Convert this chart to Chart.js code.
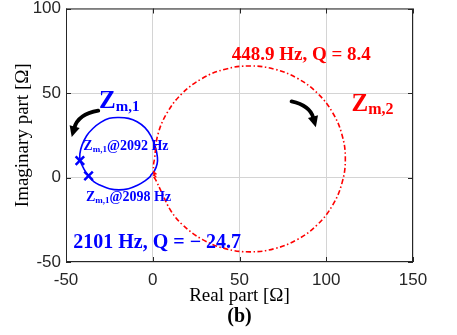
<!DOCTYPE html>
<html>
<head>
<meta charset="utf-8">
<script src="https://cdn.jsdelivr.net/npm/chart.js@4"></script>
<style>
  html, body { margin: 0; padding: 0; background: #fff; }
</style>
</head>
<body>
<canvas id="impChart" width="457" height="335"></canvas>
<script>
// Z_m,2 locus (red, dash-dot)
const redRe = [1, 0.5, 0.5, 1, 2.9, 8.4, 17.1, 28.5, 41.8, 56, 70.2, 83.5, 94.9, 103.6, 109.1, 111,
               109.1, 103.6, 94.9, 83.5, 70.2, 56, 41.8, 28.5, 17.1, 10.5, 5, 2, 0.5, 2.2, 1.5, 0.3];
const redIm = [1, 4, 8, 11, 25.2, 38.5, 49.9, 58.6, 64.1, 66, 64.1, 58.6, 49.9, 38.5, 25.2, 11,
               -3.2, -16.5, -27.9, -36.6, -42.1, -44, -42.1, -36.6, -27.9, -19.8, -8.5, -2, 1, 0.5, 2.5, 1];

// Z_m,1 locus (blue, solid)
const blueRe = [-1, 1, 2.5, 2.7, 1.5, -1, -4.5, -9, -14, -19.5, -25, -30, -34.5, -38.1, -40.8, -42, -41.8,
                -39.8, -37, -34, -30.2, -25, -19.5, -14, -8.8, -4.5, -1.5, -1];
const blueIm = [1.5, 4, 8, 12, 18, 24.5, 29.5, 33, 35, 35.5, 35, 32.6, 29, 24.7, 19, 14, 10,
                5.3, 1, -2.5, -4.6, -6.6, -7.3, -6.6, -4.6, -2, 0.5, 1.5];

// marked frequencies 2092 Hz and 2098 Hz
const markRe = [-42, -37];
const markIm = [10, 1];

const xTicks = [-50, 0, 50, 100, 150];
const yTicks = [-50, 0, 50, 100];

const toXY = (re, im) => re.map((v, i) => ({ x: v, y: im[i] }));

// text annotations (data units for the left/baseline point)
const labels = [
  { x: 45.5, y: 69.5, text: '448.9 Hz, Q = 8.4', color: '#ff0000', size: 19 },
  { x: -45.8, y: -41.6, text: '2101 Hz, Q = \u2212 24.7', color: '#0000ff', size: 20 },
];
const zLabels = [
  { x: -31, y: 41.4, sub: 'm,1', tail: '', color: '#0000ff', big: 25, small: 15 },
  { x: 114.6, y: 39.5, sub: 'm,2', tail: '', color: '#ff0000', big: 25, small: 16 },
  { x: -40, y: 16.2, sub: 'm,1', tail: '@2092 Hz', color: '#0000ff', big: 14, small: 9 },
  { x: -38.5, y: -14, sub: 'm,1', tail: '@2098 Hz', color: '#0000ff', big: 14, small: 9 },
];
// curved direction arrows: start, control, tip
const arrows = [
  { p0: [-31.4, 39.5], c: [-43, 37.4], p1: [-46.7, 23.9] },
  { p0: [80, 45], c: [90.6, 42.6], p1: [94, 29.8] },
];

function drawZ(ctx, x, y, l) {
  ctx.fillStyle = l.color;
  ctx.textBaseline = 'alphabetic';
  ctx.textAlign = 'left';
  ctx.font = 'bold ' + l.big + 'px "Liberation Serif"';
  ctx.fillText('Z', x, y);
  let w = ctx.measureText('Z').width;
  ctx.font = 'bold ' + l.small + 'px "Liberation Serif"';
  ctx.fillText(l.sub, x + w, y + l.small * 0.2);
  w += ctx.measureText(l.sub).width;
  if (l.tail) {
    ctx.font = 'bold ' + l.big + 'px "Liberation Serif"';
    ctx.fillText(l.tail, x + w, y);
  }
}

function drawArrow(ctx, xs, ys, a) {
  const x0 = xs.getPixelForValue(a.p0[0]), y0 = ys.getPixelForValue(a.p0[1]);
  const cx = xs.getPixelForValue(a.c[0]), cy = ys.getPixelForValue(a.c[1]);
  const x1 = xs.getPixelForValue(a.p1[0]), y1 = ys.getPixelForValue(a.p1[1]);
  const ang = Math.atan2(y1 - cy, x1 - cx);
  const head = 12;
  // stop the shaft a little before the tip
  const sx = x1 - Math.cos(ang) * head * 0.8, sy = y1 - Math.sin(ang) * head * 0.8;
  ctx.strokeStyle = '#000';
  ctx.lineWidth = 3.8;
  ctx.lineCap = 'round';
  ctx.beginPath();
  ctx.moveTo(x0, y0);
  ctx.quadraticCurveTo(cx, cy, sx, sy);
  ctx.stroke();
  ctx.fillStyle = '#000';
  ctx.beginPath();
  ctx.moveTo(x1, y1);
  ctx.lineTo(x1 - head * Math.cos(ang - 0.45), y1 - head * Math.sin(ang - 0.45));
  ctx.lineTo(x1 - head * Math.cos(ang + 0.45), y1 - head * Math.sin(ang + 0.45));
  ctx.closePath();
  ctx.fill();
}

const annotPlugin = {
  id: 'annot',
  afterDatasetsDraw(chart) {
    const ctx = chart.ctx;
    const xs = chart.scales.x, ys = chart.scales.y;
    ctx.save();
    labels.forEach(l => {
      ctx.fillStyle = l.color;
      ctx.font = 'bold ' + l.size + 'px "Liberation Serif"';
      ctx.textAlign = 'left';
      ctx.textBaseline = 'alphabetic';
      ctx.fillText(l.text, xs.getPixelForValue(l.x), ys.getPixelForValue(l.y));
    });
    zLabels.forEach(l => drawZ(ctx, xs.getPixelForValue(l.x), ys.getPixelForValue(l.y), l));
    arrows.forEach(a => drawArrow(ctx, xs, ys, a));
    ctx.restore();
  },
  afterDraw(chart) {
    const ctx = chart.ctx;
    const a = chart.chartArea;
    const xs = chart.scales.x, ys = chart.scales.y;
    ctx.save();
    // box and inward ticks like MATLAB
    ctx.strokeStyle = '#262626';
    ctx.lineWidth = 1;
    ctx.strokeRect(a.left + 0.5, a.top + 0.5, a.right - a.left - 1, a.bottom - a.top - 1);
    ctx.beginPath();
    xTicks.forEach(v => {
      const px = Math.round(xs.getPixelForValue(v)) + 0.5;
      ctx.moveTo(px, a.bottom); ctx.lineTo(px, a.bottom - 5);
      ctx.moveTo(px, a.top); ctx.lineTo(px, a.top + 5);
    });
    yTicks.forEach(v => {
      const py = Math.round(ys.getPixelForValue(v)) + 0.5;
      ctx.moveTo(a.left, py); ctx.lineTo(a.left + 5, py);
      ctx.moveTo(a.right, py); ctx.lineTo(a.right - 5, py);
    });
    ctx.stroke();

    // axis titles and panel label
    ctx.fillStyle = '#000';
    ctx.textAlign = 'center';
    ctx.textBaseline = 'middle';
    ctx.font = '19px "Liberation Serif"';
    const midX = (a.left + a.right) / 2;
    ctx.fillText('Real part [\u03A9]', midX, 296);
    ctx.save();
    ctx.translate(23, (a.top + a.bottom) / 2);
    ctx.rotate(-Math.PI / 2);
    ctx.fillText('Imaginary part [\u03A9]', 0, 0);
    ctx.restore();
    ctx.font = 'bold 20px "Liberation Serif"';
    ctx.fillText('(b)', midX, 317);
    ctx.restore();
  }
};

new Chart(document.getElementById('impChart'), {
  type: 'scatter',
  data: {
    datasets: [{
      label: 'Zm,2',
      data: toXY(redRe, redIm),
      showLine: true,
      borderColor: '#ff0000',
      borderWidth: 1.6,
      borderDash: [5, 2.5, 1.5, 2.5],
      tension: 0.4,
      pointRadius: 0
    }, {
      label: 'Zm,1',
      data: toXY(blueRe, blueIm),
      showLine: true,
      borderColor: '#0000ff',
      borderWidth: 1.6,
      tension: 0.4,
      pointRadius: 0
    }, {
      label: 'marks',
      data: toXY(markRe, markIm),
      showLine: false,
      pointStyle: 'crossRot',
      pointRadius: 6,
      borderColor: '#0000ff',
      borderWidth: 2.5
    }]
  },
  options: {
    responsive: false,
    animation: false,
    layout: { padding: { top: 5, right: 44, left: 0, bottom: 0 } },
    plugins: {
      legend: { display: false },
      tooltip: { enabled: false }
    },
    scales: {
      x: {
        type: 'linear',
        min: -50, max: 150,
        afterBuildTicks: s => { s.ticks = xTicks.map(v => ({ value: v })); },
        afterFit: s => { s.height = 73; s.paddingLeft = 0; s.paddingRight = 0; },
        grid: { color: '#d4d4d4', drawTicks: false },
        border: { display: false },
        ticks: { padding: 8, color: '#262626', font: { family: '"Liberation Sans"', size: 17 } }
      },
      y: {
        type: 'linear',
        min: -50, max: 100,
        afterBuildTicks: s => { s.ticks = yTicks.map(v => ({ value: v })); },
        afterFit: s => { s.width = 66; s.paddingTop = 0; s.paddingBottom = 0; },
        grid: { color: '#d4d4d4', drawTicks: false },
        border: { display: false },
        ticks: { padding: 5, color: '#262626', font: { family: '"Liberation Sans"', size: 17 } }
      }
    }
  },
  plugins: [annotPlugin]
});
</script>
</body>
</html>
